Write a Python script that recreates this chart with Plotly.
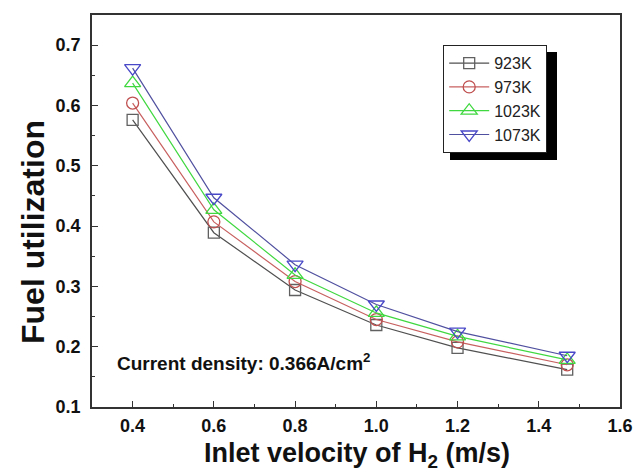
import plotly.graph_objects as go

velocity = [0.4, 0.6, 0.8, 1.0, 1.2, 1.47]
u_923 = [0.576, 0.389, 0.294, 0.236, 0.198, 0.162]
u_973 = [0.604, 0.407, 0.308, 0.245, 0.208, 0.170]
u_1023 = [0.637, 0.427, 0.319, 0.256, 0.217, 0.178]
u_1073 = [0.662, 0.447, 0.336, 0.270, 0.225, 0.185]

series_names = ["923K", "973K", "1023K", "1073K"]
series_vals = [u_923, u_973, u_1023, u_1073]
line_colors = ["#505050", "#c86060", "#40d840", "#5050a0"]
marker_colors = ["#606060", "#c05050", "#40d840", "#4848c8"]
symbols = ["square-open", "circle-open", "triangle-up-open", "triangle-down-open"]
sizes = [11, 12, 14, 14]

x_ticks = [0.4, 0.6, 0.8, 1.0, 1.2, 1.4, 1.6]
y_ticks = [0.1, 0.2, 0.3, 0.4, 0.5, 0.6, 0.7]

FONT = "Liberation Sans, Arial"

fig = go.Figure()
for name, vals, lc, mc, sym, sz in zip(series_names, series_vals, line_colors,
                                        marker_colors, symbols, sizes):
    fig.add_trace(go.Scatter(
        x=velocity, y=vals, name=name, mode="lines+markers",
        line=dict(color=lc, width=1.2),
        marker=dict(symbol=sym, size=sz, color=mc, line=dict(width=1.3, color=mc)),
    ))

axis_common = dict(
    showline=True, linecolor="#333333", linewidth=1.5, mirror=True,
    ticks="inside", ticklen=6, tickwidth=1.2, tickcolor="#333333",
    showgrid=False, zeroline=False, automargin=False,
    tickfont=dict(family=FONT, size=18, color="#111111", weight="bold"),
)

fig.update_xaxes(
    range=[0.3, 1.6], tickvals=x_ticks, ticktext=[f"{v:.1f}" for v in x_ticks],
    minor=dict(ticks="inside", ticklen=3, tickwidth=1, tickcolor="#333333", dtick=0.1, tick0=0.3),
    ticklabelstandoff=2,
    **axis_common,
)
fig.update_yaxes(
    range=[0.1, 0.75], tickvals=y_ticks, ticktext=[f"{v:.1f}" for v in y_ticks],
    minor=dict(ticks="inside", ticklen=3, tickwidth=1, tickcolor="#333333", dtick=0.05, tick0=0.1),
    ticklabelstandoff=6,
    **axis_common,
)

# axis titles
fig.add_annotation(
    x=(357 - 92) / 528, y=(407 - 455) / 392, xref="paper", yref="paper",
    xanchor="center", yanchor="middle", showarrow=False,
    text="Inlet velocity of H<sub>2</sub> (m/s)",
    font=dict(family=FONT, size=27, color="#111111", weight="bold"),
)
fig.add_annotation(
    x=(33 - 92) / 528, y=(407 - 232) / 392, xref="paper", yref="paper",
    xanchor="center", yanchor="middle", showarrow=False, textangle=-90,
    text="Fuel utilization",
    font=dict(family=FONT, size=32, color="#111111", weight="bold"),
)

fig.add_annotation(
    x=0.357, y=0.174, xref="x", yref="y", xanchor="left", yanchor="middle",
    text="Current density: 0.366A/cm<sup>2</sup>", showarrow=False,
    font=dict(family=FONT, size=19, color="#111111", weight="bold"),
)

# legend shadow
fig.add_shape(type="rect", xref="paper", yref="paper",
              x0=(450 - 92) / 528, x1=(557 - 92) / 528,
              y0=(407 - 160) / 392, y1=(407 - 52) / 392,
              fillcolor="black", line=dict(width=0), layer="above")

fig.update_layout(
    width=640, height=474,
    margin=dict(l=92, r=20, t=15, b=67),
    paper_bgcolor="white", plot_bgcolor="white",
    showlegend=True,
    legend=dict(
        x=(443 - 92) / 528, y=(407 - 45) / 392, xanchor="left", yanchor="top",
        bgcolor="white", bordercolor="#222222", borderwidth=1.2,
        font=dict(family=FONT, size=16, color="#222222"),
        itemwidth=40, tracegroupgap=0,
    ),
)

fig.write_html("out.html", config={"displayModeBar": False},
               post_script="document.body.style.margin='0';")
